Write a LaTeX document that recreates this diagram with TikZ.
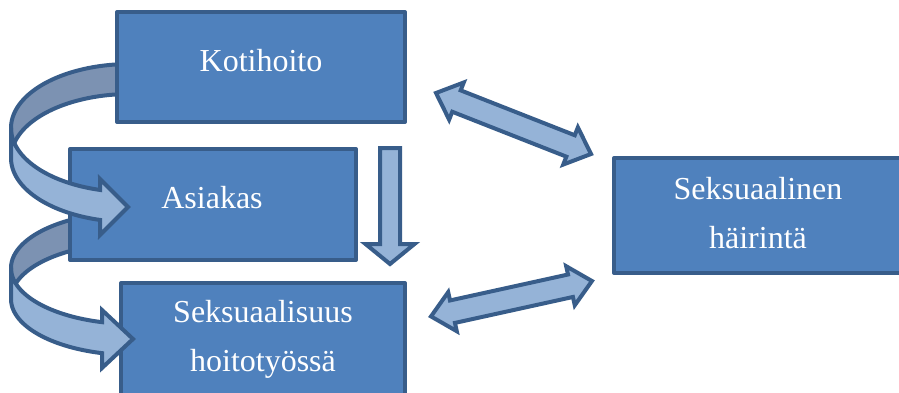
\documentclass[tikz,border=0pt]{standalone}
\usepackage{fontspec}
\setmainfont{Liberation Serif}
\definecolor{boxfill}{RGB}{79,129,189}
\definecolor{edgecol}{RGB}{56,93,138}
\definecolor{lightarr}{RGB}{149,179,215}
\definecolor{backarr}{RGB}{124,146,178}
\tikzset{
  box/.style={draw=edgecol, fill=boxfill, line width=4pt, line join=round, inner sep=0pt},
  lbl/.style={anchor=base, inner sep=0pt, text=white, font=\fontsize{32}{32}\selectfont},
  blockarr/.style={draw=edgecol, fill=lightarr, line width=4pt, line join=miter},
  backband/.style={draw=edgecol, fill=backarr, line width=4pt, line join=round}
}
\begin{document}
\begin{tikzpicture}[x=1pt,y=-1pt]
\useasboundingbox (0,0) rectangle (899,392);
\clip (0,0) rectangle (899,392);
% back faces of the curved arrows
\draw[backband] plot[domain=-90:-180, samples=50] ({130+119*cos(\x)},{128+64*sin(\x)})
  -- plot[domain=-180:-90, samples=50] ({130+119*cos(\x)},{158+64*sin(\x)}) -- cycle;
\draw[backband] plot[domain=-90:-180, samples=50] ({133+122*cos(\x)},{268+56*sin(\x)})
  -- plot[domain=-180:-90, samples=50] ({133+122*cos(\x)},{299+56*sin(\x)}) -- cycle;
% boxes
\node[box, minimum width=288pt, minimum height=110pt] (kot) at (261,67) {};
\node[box, minimum width=286pt, minimum height=111pt] (asi) at (213,204.5) {};
\node[box, minimum width=284pt, minimum height=113pt] (sek) at (263,339.5) {};
\node[box, minimum width=290pt, minimum height=115pt] (hai) at (759,215.5) {};
% labels
\node[lbl] (tkot) at (261,71) {Kotihoito};
\node[lbl] (tasi) at (212,208) {Asiakas};
\node[lbl] (tsek1) at (263,322) {Seksuaalisuus};
\node[lbl] (tsek2) at (263,371) {hoitotyössä};
\node[lbl] (thai1) at (758,199) {Seksuaalinen};
\node[lbl] (thai2) at (758,248) {häirintä};
% front faces of the curved arrows
\draw[blockarr] plot[domain=180:104.6, samples=50] ({130+119*cos(\x)},{128+64*sin(\x)})
  -- (100,179) -- (128,207) -- (100,235)
  -- plot[domain=104.6:180, samples=50] ({130+119*cos(\x)},{158+64*sin(\x)}) -- cycle;
\draw[blockarr] plot[domain=180:104.72, samples=50] ({133+122*cos(\x)},{268+56*sin(\x)})
  -- (102,310) -- (133,339) -- (102,368)
  -- plot[domain=104.72:180, samples=50] ({133+122*cos(\x)},{299+56*sin(\x)}) -- cycle;
% down arrow
\draw[blockarr] (380,148) -- (400,148) -- (400,244) -- (414.5,244) -- (390,264)
  -- (365.5,244) -- (380,244) -- cycle;
% double arrows
\begin{scope}[shift={(436,93)}, rotate=-21.48]
\draw[blockarr] (0,0) -- (22,-20) -- (22,-11.5) -- (144.6,-11.5) -- (144.6,-20) -- (166.6,0)
  -- (144.6,20) -- (144.6,11.5) -- (22,11.5) -- (22,20) -- cycle;
\end{scope}
\begin{scope}[shift={(431,316.4)}, rotate=12.4]
\draw[blockarr] (0,0) -- (22,-20) -- (22,-11.5) -- (142.8,-11.5) -- (142.8,-20) -- (164.8,0)
  -- (142.8,20) -- (142.8,11.5) -- (22,11.5) -- (22,20) -- cycle;
\end{scope}
\end{tikzpicture}
\end{document}
